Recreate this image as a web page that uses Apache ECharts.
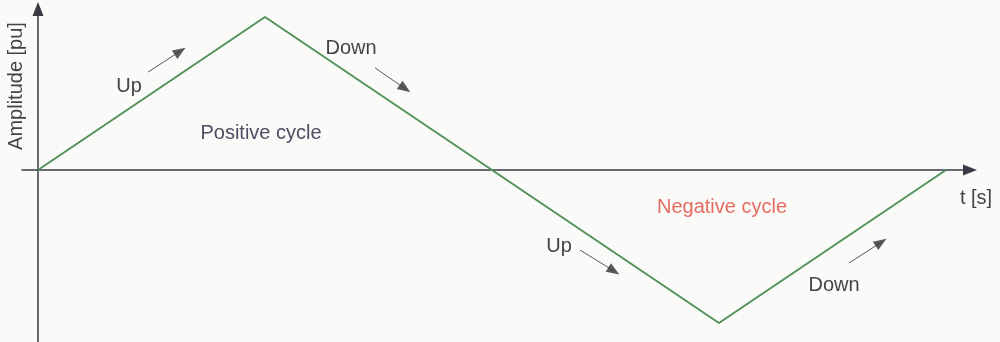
<!DOCTYPE html>
<html>
<head>
<meta charset="utf-8">
<script src="https://cdn.jsdelivr.net/npm/echarts@6/dist/echarts.min.js"></script>
<style>
  html, body { margin: 0; padding: 0; background: #fafaf8; }
  #chart { width: 1000px; height: 342px; }
</style>
</head>
<body>
<div id="chart"></div>
<script>
// Triangular waveform: one positive and one negative half cycle
const time = [0, 1, 2, 3, 4];
const amplitude = [0, 1, 0, -1, 0];

// Direction arrows along the waveform: [tail, tip] in data units
const arrowSegments = [
  [[0.485, 0.640], [0.626, 0.776]],
  [[1.485, 0.667], [1.617, 0.532]],
  [[2.388, -0.523], [2.537, -0.660]],
  [[3.573, -0.608], [3.714, -0.473]]
];

const FONT = '"Liberation Sans", Arial, sans-serif';
const textColor = '#444444';

const chart = echarts.init(document.getElementById('chart'), null, { renderer: 'canvas' });

function label(text, x, y, color, extra) {
  return Object.assign({
    type: 'text', x: x, y: y,
    style: { text: text, fill: color || textColor, font: '20px ' + FONT, align: 'center', verticalAlign: 'middle' }
  }, extra || {});
}

const axisLineStyle = { color: '#3a3a44', width: 1.5 };

chart.setOption({
  backgroundColor: '#fafaf8',
  animation: false,
  grid: { left: 22, right: 30, top: 9, bottom: 0, containLabel: false },
  xAxis: {
    type: 'value', min: -0.0705, max: 4.106,
    axisLine: { onZero: true, lineStyle: axisLineStyle, symbol: ['none', 'triangle'], symbolSize: [11, 14] },
    axisTick: { show: false }, axisLabel: { show: false }, splitLine: { show: false }
  },
  yAxis: {
    type: 'value', min: -1.124, max: 1.052,
    axisLine: { onZero: true, lineStyle: axisLineStyle, symbol: ['none', 'triangle'], symbolSize: [11, 14] },
    axisTick: { show: false }, axisLabel: { show: false }, splitLine: { show: false }
  },
  series: [
    {
      type: 'line',
      data: time.map((t, i) => [t, amplitude[i]]),
      showSymbol: false,
      lineStyle: { color: '#52925a', width: 2 },
      z: 3
    },
    {
      type: 'line',
      data: [],
      markLine: {
        silent: true,
        symbol: ['none', 'triangle'],
        symbolSize: [10, 13],
        label: { show: false },
        lineStyle: { color: '#3c3c3c', width: 1, type: 'solid', opacity: 0.85 },
        data: arrowSegments.map(s => [{ coord: s[0] }, { coord: s[1] }])
      }
    }
  ],
  graphic: [
    label('Up', 129, 86),
    label('Down', 351, 48),
    label('Positive cycle', 261, 133, '#4d4d63'),
    label('Negative cycle', 722, 207, '#e66c62'),
    label('Up', 559, 246),
    label('Down', 834, 285),
    label('t [s]', 976, 198),
    label('Amplitude [pu]', 16, 86, textColor, { rotation: Math.PI / 2 })
  ]
});
</script>
</body>
</html>
